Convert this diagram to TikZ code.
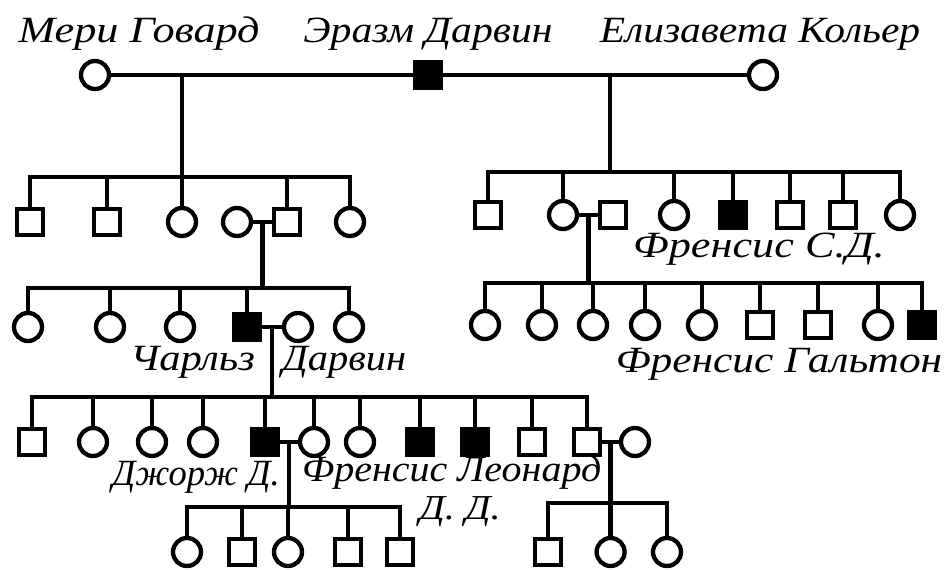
\documentclass[tikz,border=0pt]{standalone}
\usepackage{fontspec}
\setmainfont{Liberation Serif}
\newfontfamily\scriptf[FakeStretch=1.15]{Liberation Serif}
\usetikzlibrary{calc}
\begin{document}
\begin{tikzpicture}[x=1pt,y=-1pt,line width=4.3pt,line join=miter,
 fem/.style={circle,draw,minimum size=28pt,inner sep=0pt,line width=4.3pt},
 mal/.style={rectangle,draw,minimum size=26.5pt,inner sep=0pt,line width=4.3pt},
 aff/.style={fill=black},
 lbl/.style={font=\scriptf\itshape\fontsize{37}{37}\selectfont,inner sep=0pt}]
\useasboundingbox[fill=white] (0,0) rectangle (945,570);

% ---------- labels ----------
\node[lbl,anchor=base] (lmg) at (139,42) {\scalebox{1.04}[1]{Мери Говард}};
\node[lbl,anchor=base] (led) at (428,42) {\scalebox{0.98}[1]{Эразм Дарвин}};
\node[lbl,anchor=base] (lek) at (760,42) {\scalebox{0.975}[1]{Елизавета Кольер}};
\node[lbl,anchor=base east] (lch1) at (257,370) {Чарльз};
\node[lbl,anchor=base west] (lch2) at (280,370) {\scalebox{0.95}[1]{Дарвин}};
\node[lbl,anchor=base] (lfs) at (759,257) {\scalebox{1.04}[1]{Френсис С.Д.}};
\node[lbl,anchor=base] (lfg) at (779,372) {\scalebox{1.02}[1]{Френсис Гальтон}};
\node[lbl,anchor=base east] (lgd) at (282,485) {\scalebox{0.86}[1]{Джорж Д.}};
\node[lbl,anchor=base west] (lfl) at (300,481) {\scalebox{0.94}[1]{Френсис Леонард}};
\node[lbl,anchor=base,font=\scriptf\itshape\fontsize{35}{35}\selectfont] (ldd) at (460,519) {Д. Д.};

% ---------- generation 1 ----------
\node[fem] (mg) at (95,75) {};
\node[mal,aff] (ed) at (428,75) {};
\node[fem] (ek) at (763,75) {};
\draw (mg) -- (ed) -- (ek);
\coordinate (m1) at (182,75);
\coordinate (m2) at (610,75);

% ---------- family 1 (left) ----------
\coordinate (b1) at (0,177);
\node[mal] (a1) at (30,222) {};
\node[mal] (a2) at (107,222) {};
\node[fem] (a3) at (182,222) {};
\node[fem] (sw) at (237,222) {};
\node[mal] (a4) at (287,222) {};
\node[fem] (a5) at (350,222) {};
\draw (m1) -- (m1 |- b1);
\draw (a1.north) -- (a1.north |- b1) -- (a5.north |- b1) -- (a5.north);
\foreach \n in {a2,a3,a4} \draw (\n.north) -- (\n.north |- b1);
\draw (sw) -- (a4);
\coordinate (m3) at ($(sw.east)!0.5!(a4.west)$);

% ---------- family 2 (Robert) ----------
\coordinate (b2) at (0,288);
\node[fem] (c1) at (28,327) {};
\node[fem] (c2) at (110,327) {};
\node[fem] (c3) at (180,327) {};
\node[mal,aff] (c4) at (247,327) {};
\node[fem] (em) at (298,327) {};
\node[fem] (c5) at (349,327) {};
\draw (m3) -- (m3 |- b2);
\draw (c1.north) -- (c1.north |- b2) -- (c5.north |- b2) -- (c5.north);
\foreach \n in {c2,c3,c4} \draw (\n.north) -- (\n.north |- b2);
\draw (c4) -- (em);
\coordinate (m4) at ($(c4.east)!0.5!(em.west)$);

% ---------- family 3 (Charles) ----------
\coordinate (b3) at (0,397);
\node[mal] (d1) at (32,442) {};
\node[fem] (d2) at (93,442) {};
\node[fem] (d3) at (152,442) {};
\node[fem] (d4) at (203,442) {};
\node[mal,aff] (d5) at (265,442) {};
\node[fem] (d6) at (314,442) {};
\node[fem] (d7) at (360,442) {};
\node[mal,aff] (d8) at (420,442) {};
\node[mal,aff] (d9) at (475,442) {};
\node[mal] (d10) at (532,442) {};
\node[mal] (d11) at (587,442) {};
\node[fem] (sp) at (635,442) {};
\draw (m4) -- (m4 |- b3);
\draw (d1.north) -- (d1.north |- b3) -- (d11.north |- b3) -- (d11.north);
\foreach \n in {d2,d3,d4,d5,d6,d7,d8,d9,d10} \draw (\n.north) -- (\n.north |- b3);
\draw (d5) -- (d6);
\coordinate (m5) at ($(d5.east)!0.5!(d6.west)$);
\draw (d11) -- (sp);
\coordinate (m6) at ($(d11.east)!0.5!(sp.west)$);

% ---------- family 4 (George) ----------
\coordinate (b4) at (0,507);
\node[fem] (e1) at (187,552) {};
\node[mal] (e2) at (242,552) {};
\node[fem] (e3) at (288,552) {};
\node[mal] (e4) at (348,552) {};
\node[mal] (e5) at (400,552) {};
\draw (m5) -- (m5 |- b4);
\draw (e1.north) -- (e1.north |- b4) -- (e5.north |- b4) -- (e5.north);
\foreach \n in {e2,e3,e4} \draw (\n.north) -- (\n.north |- b4);

% ---------- family 5 ----------
\coordinate (b5) at (0,503);
\coordinate (r5) at (0,552);
\node[mal] (f1) at (548,552) {};
\node[fem] (f2) at (m6 |- r5) {};
\node[fem] (f3) at (667,552) {};
\draw (f1.north) -- (f1.north |- b5) -- (f3.north |- b5) -- (f3.north);
\draw (m6) -- (f2.north);

% ---------- family 1 (right) ----------
\coordinate (b6) at (0,172);
\node[mal] (g1) at (488,215) {};
\node[fem] (g2) at (563,215) {};
\node[mal] (gs) at (613,215) {};
\node[fem] (g3) at (674,215) {};
\node[mal,aff] (g4) at (733,215) {};
\node[mal] (g5) at (790,215) {};
\node[mal] (g6) at (843,215) {};
\node[fem] (g7) at (900,215) {};
\draw (m2) -- (m2 |- b6);
\draw (g1.north) -- (g1.north |- b6) -- (g7.north |- b6) -- (g7.north);
\foreach \n in {g2,g3,g4,g5,g6} \draw (\n.north) -- (\n.north |- b6);
\draw (g2) -- (gs);
\coordinate (m7) at ($(g2.east)!0.5!(gs.west)$);

% ---------- Galton family ----------
\coordinate (b7) at (0,283);
\node[fem] (h1) at (485,325) {};
\node[fem] (h2) at (542,325) {};
\node[fem] (h3) at (593,325) {};
\node[fem] (h4) at (645,325) {};
\node[fem] (h5) at (702,325) {};
\node[mal] (h6) at (760,325) {};
\node[mal] (h7) at (818,325) {};
\node[fem] (h8) at (878,325) {};
\node[mal,aff] (h9) at (922,325) {};
\draw (m7) -- (m7 |- b7);
\draw (h1.north) -- (h1.north |- b7) -- (h9.north |- b7) -- (h9.north);
\foreach \n in {h2,h3,h4,h5,h6,h7,h8} \draw (\n.north) -- (\n.north |- b7);
\end{tikzpicture}
\end{document}
